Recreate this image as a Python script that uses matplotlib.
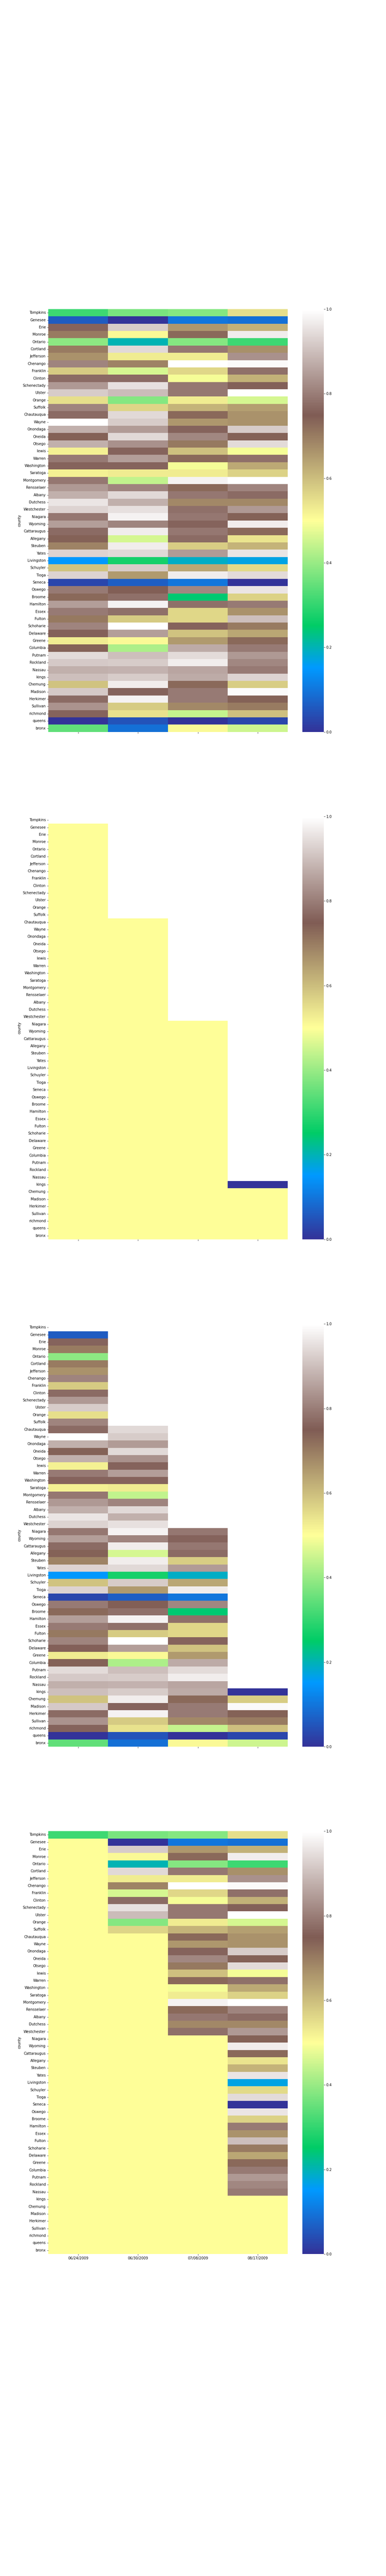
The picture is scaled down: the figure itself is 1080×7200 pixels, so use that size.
import numpy as np
import pandas as pd
import matplotlib
matplotlib.use("Agg")
import matplotlib.pyplot as plt
import seaborn as sns

counties = ["Tompkins", "Genesee", "Erie", "Monroe", "Ontario", "Cortland", "Jefferson",
            "Chenango", "Franklin", "Clinton", "Schenectady", "Ulster", "Orange", "Suffolk",
            "Chautauqua", "Wayne", "Onondaga", "Oneida", "Otsego", "lewis", "Warren",
            "Washington", "Saratoga", "Montgomery", "Rensselaer", "Albany", "Dutchess",
            "Westchester", "Niagara", "Wyoming", "Cattaraugus", "Allegany", "Steuben", "Yates",
            "Livingston", "Schuyler", "Tioga", "Seneca", "Oswego", "Broome", "Hamilton", "Essex",
            "Fulton", "Schoharie", "Delaware", "Greene", "Columbia", "Putnam", "Rockland",
            "Nassau", "kings", "Chemung", "Madison", "Herkimer", "Sullivan", "richmond",
            "queens", "bronx"]
dates = ["06/24/2009", "06/30/2009", "07/08/2009", "08/17/2009"]

# values, one list per date
d1 = [0.31, 0.06, 0.76, 0.70, 0.39, 0.70, 0.665, 0.81, 0.58, 0.77, 0.84, 0.92, 0.55, 0.81,
      0.77, 1.00, 0.875, 0.74, 0.875, 0.52, 0.795, 0.76, 0.52, 0.79, 0.84, 0.875, 0.96, 0.93,
      0.79, 0.85, 0.77, 0.74, 0.69, 0.93, 0.15, 0.59, 0.93, 0.03, 0.795, 0.73, 0.85, 0.795,
      0.705, 0.81, 0.755, 0.53, 0.74, 0.945, 0.915, 0.875, 0.90, 0.59, 0.915, 0.77, 0.835,
      0.76, 0.00, 0.345]
d2 = [0.37, 0.00, 0.92, 0.51, 0.20, 0.94, 0.53, 0.69, 0.46, 0.77, 0.95, 0.895, 0.38, 0.565,
      0.94, 0.92, 0.845, 0.94, 0.83, 0.76, 0.85, 0.76, 0.53, 0.44, 0.81, 0.94, 0.875, 0.95,
      0.98, 0.81, 0.97, 0.46, 0.97, 0.94, 0.27, 0.92, 0.655, 0.065, 0.745, 0.78, 0.98, 0.78,
      0.58, 1.00, 0.85, 0.51, 0.42, 0.90, 0.92, 0.88, 0.92, 0.97, 0.76, 0.98, 0.58, 0.545,
      0.05, 0.09]
d3 = [0.38, 0.10, 0.66, 0.73, 0.38, 0.79, 0.53, 1.00, 0.56, 0.49, 0.79, 0.79, 0.53, 0.615,
      0.73, 0.66, 0.76, 0.815, 0.705, 0.595, 0.73, 0.49, 0.53, 0.98, 0.73, 0.79, 0.68, 0.78,
      0.79, 0.76, 0.79, 0.77, 0.575, 0.845, 0.19, 0.635, 0.97, 0.10, 0.815, 0.245, 0.78, 0.56,
      0.56, 0.76, 0.59, 0.655, 0.87, 0.945, 0.97, 0.86, 0.87, 0.73, 0.795, 0.795, 0.68, 0.445,
      0.00, 0.51]
d4 = [0.55, 0.09, 0.62, 0.97, 0.31, 0.67, 0.83, 0.99, 0.78, 0.62, 0.755, 1.00, 0.46, 0.645,
      0.665, 0.665, 0.92, 0.74, 0.945, 0.49, 0.78, 0.63, 0.57, 1.00, 0.81, 0.77, 0.68, 0.84,
      0.74, 0.97, 0.73, 0.54, 0.615, 0.96, 0.17, 0.555, 0.945, 0.00, 0.96, 0.57, 0.795, 0.665,
      0.90, 0.70, 0.635, 0.73, 0.795, 0.84, 0.815, 0.795, 0.93, 0.575, 0.99, 0.74, 0.70, 0.595,
      0.03, 0.45]

# first county with a report for each date, and the value drawn there in panel 2
first_row = ["Genesee", "Chautauqua", "Niagara", "kings"]
first_val = [0.5, 0.5, 0.5, 0.0]
fill_val = 0.5

df = pd.DataFrame({d: v for d, v in zip(dates, [d1, d2, d3, d4])}, index=counties)
df.index.name = "county"

flag = pd.DataFrame(np.nan, index=df.index, columns=dates)
for d, c, v in zip(dates, first_row, first_val):
    i = counties.index(c)
    flag.iloc[i:, dates.index(d)] = fill_val
    flag.iloc[i, dates.index(d)] = v

reported = df.where(flag.notna())
reported[flag == 0.0] = 0.0
pending = df.where(flag.isna(), fill_val)

fig, axes = plt.subplots(4, 1, figsize=(15, 100), dpi=72, sharex=True)
fig.subplots_adjust(bottom=0.125, hspace=0.2)
for ax, data in zip(axes, [df, flag, reported, pending]):
    sns.heatmap(data, ax=ax, cmap="terrain", vmin=0, vmax=1, yticklabels=True)
    ax.set_xlabel("")
    ax.tick_params(axis="y", rotation=0)
    ax.tick_params(axis="x", rotation=0)

fig.savefig("out.png")
